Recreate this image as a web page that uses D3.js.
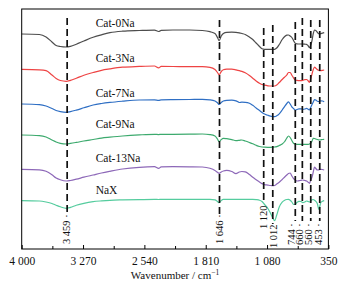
<!DOCTYPE html>
<html>
<head>
<meta charset="utf-8">
<script src="https://cdn.jsdelivr.net/npm/d3@7"></script>
<style>
  html, body { margin: 0; padding: 0; background: #fff; }
  svg { display: block; font-family: "Liberation Serif", "Times New Roman", serif; }
</style>
</head>
<body>
<svg id="chart" width="343" height="290"></svg>
<script>
// ---- data ----
const wavenumbers = [4000,3790,3710,3640,3590,3540,3470,3420,3350,3260,3150,3050,2950,2800,2600,2420,2370,2340,2200,2000,1850,1760,1700,1670,1650,1625,1600,1560,1500,1450,1410,1380,1340,1290,1250,1210,1170,1140,1110,1070,1040,1012,990,965,935,900,870,845,825,805,785,765,745,725,700,675,655,630,610,590,575,560,545,530,515,500,480,465,453,440,420,400];

const seriesNames = ["Cat-0Na", "Cat-3Na", "Cat-7Na", "Cat-9Na", "Cat-13Na", "NaX"];

const cat0Na = [215,214.5,212,207,203.5,202.5,202,202.7,204.8,208,211.7,214.2,216.3,217.8,218.5,218.9,217.5,218.7,219,219,218.5,217.3,215.5,211.5,208.3,213,215.5,216.7,216.8,216.7,216.2,215.5,214.5,212,209.5,206,202.5,200.2,199.7,199.7,199.7,199.7,199.7,201,204.5,209.5,212.5,213.8,214,213,211.5,208.5,205.7,205.2,205,205,205,204.8,204.7,203,201.3,204,208.5,215.5,219,218.5,216.5,215.2,215,215.4,215.9,216.3];
const cat3Na = [179.7,179.2,178.4,174,170.5,168.5,167.7,168.7,170.8,173.8,176.5,178.7,180.1,181.8,182.6,183,181.2,182.6,182.5,182.3,182.3,181.7,179.5,176.5,174,177.5,179.2,179.8,179.9,179.2,178.4,177.6,176.2,173.5,170.8,168,165.7,164.5,163.8,163.2,163,163,163,164,166.5,169.5,172,174,176.5,176.5,173.7,171.2,169,168.7,168.4,168.3,168.6,169.4,169.5,168,166.7,170.5,175,179.5,182,180.8,179.3,178.7,178.4,178.4,178.7,179];
const cat7Na = [145,144.4,143,140.5,138.5,137.4,136.7,137.4,138.9,141.2,144,145.5,146.6,147.8,149,149.2,148.6,149.2,149.3,149.5,149.7,149.2,148,146.2,144.5,146.5,148,148.7,148.8,148.2,146.5,146.8,146.7,145.8,143.7,141,138.5,136.6,135,133.7,132.9,132.5,132.3,133.2,135.2,139,142.7,145.5,147.2,145,142.2,140.5,139,139.5,140.2,140.2,139.7,140,140.6,139.8,139,141.8,144.5,147,149.4,149,147.7,147.5,147.8,148.2,148,147.3];
const cat9Na = [114,113.4,112,109,107,105.7,105,105.6,106.6,108,109.5,110.9,111.8,113,114.1,114.7,114.4,114.7,114.7,114.8,115,114.4,113,110,107.3,109.5,110.7,110.3,109.4,108.4,108.7,109,108,106.5,105.2,103.7,102.5,102,101.8,101.7,101.7,101.8,102,102.3,103.5,105,107.5,111,113,111.5,108.5,105.7,105,104.7,104.7,104.7,104.7,104.7,104.7,104.7,105,105.8,108,110.7,110.5,110,109.5,109.2,109,109.2,109.5,109.7];
const cat13Na = [79.7,79.2,77.7,74.2,71,69.2,68,68.5,69.8,71.8,74,76,77.7,80,81.7,82.3,80.7,82.1,82.3,82.2,82,80.7,78.5,76.7,75.7,77,78,78.6,77.5,75.4,77,77.5,77.2,74.5,71.7,69.3,67,65.4,64.4,63.9,63.5,63.3,63.5,65,66.8,69.5,72,74,75.5,76,73,70.5,69,68,68.3,68.7,69,68.5,68,66.7,65.7,69,72,77,82,80.5,79,79.2,79.5,79.7,79.5,79];
const naX = [48.3,48,47,45.5,43.8,42.2,40.7,41.7,43.8,45.7,47.3,48.1,48.7,49.1,49.4,49.6,49.5,49.6,49.7,49.7,49.7,49.7,49.2,47.5,46.3,48.5,49.6,49.7,49.7,49.7,49.7,49.7,49.7,49.7,49.7,49.4,48.8,47.5,44.5,40.5,36,31,28.3,34,42,46.8,48.8,49.5,49.7,48.8,47,44.5,44.8,46.5,47.7,47.5,46.3,47,48,47.5,47,48,49.2,49.5,48.7,47.7,45,39.7,42.5,46.5,47.7,48.3];

const peakPositions = [3459, 1646, 1120, 1012, 744, 660, 560, 453];
const peakLabels = ["3 459 ·", "1 646 ·", "1 120", "1 012", "744 ·", "660 ·", "560 ·", "453 ·"];

const tickValues = [4000, 3270, 2540, 1810, 1080, 350];
const tickLabels = ["4 000", "3 270", "2 540", "1 810", "1 080", "350"];
const minorTicks = [3635, 2905, 2175, 1445, 715];

// ---- layout / style ----
const seriesColors = ["#4d4d4d", "#ee4444", "#2f6fc4", "#3daa6e", "#8d68b8", "#55cc9e"];
const peakLineTop = [18, 20, 28, 25, 22, 18, 20, 20];
const peakLineBottom = [212, 217, 204, 224, 221, 221, 221, 221];
const peakLabelBottom = [244, 244, 229, 248, 245, 245, 245, 245];
const peakLabelShift = [-1, 0, 0, 1, -4, -3, -2, -1];

const allSeries = [cat0Na, cat3Na, cat7Na, cat9Na, cat13Na, naX];

const M = { left: 21.7, right: 328.4, top: 9, bottom: 249 };
const svg = d3.select("#chart");

const x = d3.scaleLinear().domain([4000, 350]).range([M.left, M.right]);
const y = d3.scaleLinear().domain([0, 240]).range([M.bottom, M.top]);

// curves
const line = d3.line()
  .x((d, i) => x(wavenumbers[i]))
  .y(d => y(d))
  .curve(d3.curveMonotoneX);

svg.append("g").selectAll("path")
  .data(allSeries)
  .join("path")
  .attr("d", d => line(d))
  .attr("fill", "none")
  .attr("stroke", (d, i) => seriesColors[i])
  .attr("stroke-width", 1.2);

// dashed peak lines
svg.append("g").selectAll("line")
  .data(peakPositions)
  .join("line")
  .attr("x1", d => x(d)).attr("x2", d => x(d))
  .attr("y1", (d, i) => peakLineTop[i])
  .attr("y2", (d, i) => peakLineBottom[i])
  .attr("stroke", "#111")
  .attr("stroke-width", 1.7)
  .attr("stroke-dasharray", "7,4");

// peak labels
svg.append("g").selectAll("text")
  .data(peakPositions)
  .join("text")
  .attr("transform", (d, i) => `translate(${x(d) + peakLabelShift[i]},${peakLabelBottom[i]}) rotate(-90)`)
  .attr("dy", "0.35em")
  .attr("text-anchor", "start")
  .attr("font-size", "10.5px")
  .attr("fill", "#111")
  .text((d, i) => peakLabels[i]);

// series labels
svg.append("g").selectAll("text")
  .data(allSeries)
  .join("text")
  .attr("x", x(3120))
  .attr("y", d => y(d[0]) - 7)
  .attr("font-size", "11.5px")
  .attr("fill", "#111")
  .text((d, i) => seriesNames[i]);

// frame
svg.append("rect")
  .attr("x", M.left).attr("y", M.top)
  .attr("width", M.right - M.left).attr("height", M.bottom - M.top)
  .attr("fill", "none").attr("stroke", "#000").attr("stroke-width", 1);

// bottom axis
const axis = d3.axisBottom(x)
  .tickValues(tickValues)
  .tickFormat((d, i) => tickLabels[i])
  .tickSizeInner(-4).tickSizeOuter(0).tickPadding(8);
const gAxis = svg.append("g").attr("transform", `translate(0,${M.bottom})`).call(axis);
gAxis.select(".domain").remove();
gAxis.selectAll("text").attr("font-size", "11.5px").attr("fill", "#111")
  .style("font-family", "'Liberation Serif', 'Times New Roman', serif");
gAxis.selectAll("line").attr("stroke", "#000");

const minor = d3.axisBottom(x).tickValues(minorTicks).tickFormat("")
  .tickSizeInner(-3).tickSizeOuter(0);
const gMinor = svg.append("g").attr("transform", `translate(0,${M.bottom})`).call(minor);
gMinor.select(".domain").remove();
gMinor.selectAll("line").attr("stroke", "#000");

// axis title
const title = svg.append("text")
  .attr("x", (M.left + M.right) / 2)
  .attr("y", 279)
  .attr("text-anchor", "middle")
  .attr("font-size", "11px")
  .attr("fill", "#111");
title.append("tspan").text("Wavenumber / cm");
title.append("tspan").attr("dy", "-4").attr("font-size", "7.5px").text("−1");
</script>
</body>
</html>
